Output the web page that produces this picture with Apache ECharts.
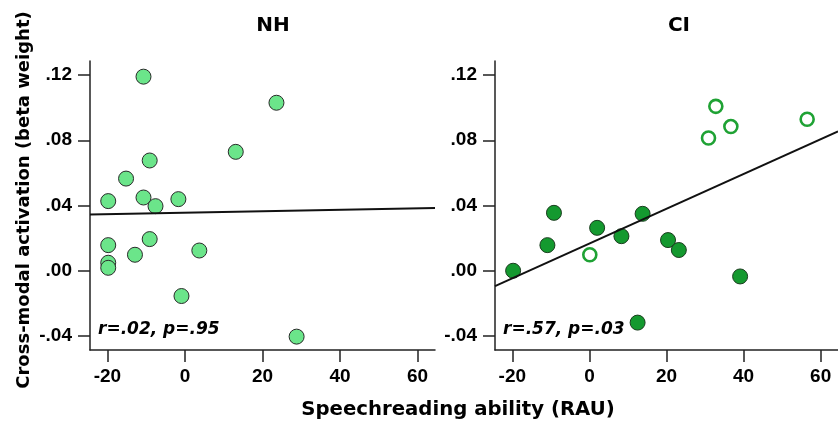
<!DOCTYPE html>
<html>
<head>
<meta charset="utf-8">
<script src="https://cdn.jsdelivr.net/npm/echarts@6/dist/echarts.min.js"></script>
<style>html,body{margin:0;padding:0;background:#fff}#c{width:838px;height:427px}</style>
</head>
<body>
<div id="c"></div>
<script>
// ---- data ----
const panelTitles = ['NH', 'CI'];
const xTicks = [-20, 0, 20, 40, 60];
const xTickLabels = ['-20', '0', '20', '40', '60'];
const yTicks = [-0.04, 0, 0.04, 0.08, 0.12];
const yTickLabels = ['-.04', '.00', '.04', '.08', '.12'];

const nhX = [-10.7, 23.6, 13.1, -9.1, -15.2, -19.8, -10.7, -7.6, -1.7, -19.8, -19.8, -19.8, -12.9, -9.1, 3.7, -0.9, 28.8];
const nhY = [0.119, 0.103, 0.0729, 0.0676, 0.0565, 0.0427, 0.0449, 0.0396, 0.0439, 0.0157, 0.0049, 0.0018, 0.0098, 0.0194, 0.0124, -0.0155, -0.0404];

const ciX = [-19.8, -10.9, -9.2, 2.0, 8.3, 13.8, 20.4, 23.2, 39.1, 12.5];
const ciY = [0.000, 0.0157, 0.0355, 0.0263, 0.0212, 0.0349, 0.0188, 0.0127, -0.0035, -0.0318];

const ciOpenX = [0.1, 30.9, 32.8, 36.7, 56.5];
const ciOpenY = [0.0098, 0.0814, 0.1008, 0.0884, 0.0929];

const nhFitX = [-24.5, 64.5];
const nhFitY = [0.0345, 0.0385];
const ciFitX = [-24.5, 64.5];
const ciFitY = [-0.0094, 0.0855];

const statTexts = ['r=.02, p=.95', 'r=.57, p=.03'];
const xTitle = 'Speechreading ability (RAU)';
const yTitle = 'Cross-modal activation (beta weight)';

// ---- chart ----
const zip = (a, b) => a.map((v, i) => [v, b[i]]);
const tickFont = {fontFamily: 'Liberation Sans, Arial, sans-serif', fontWeight: 'bold', fontSize: 19, color: '#000'};

function xAxis(gi) {
  return {
    type: 'value', gridIndex: gi, min: -24.5, max: 64.5,
    splitLine: {show: false},
    axisLine: {show: true, onZero: false, lineStyle: {color: '#222', width: 1.5}},
    axisTick: {show: true, length: 12, customValues: xTicks, lineStyle: {color: '#222', width: 1.5}},
    axisLabel: Object.assign({customValues: xTicks, margin: 17,
      formatter: v => xTickLabels[xTicks.indexOf(v)] ?? ''}, tickFont)
  };
}
function yAxis(gi) {
  return {
    type: 'value', gridIndex: gi, min: -0.0486, max: 0.1286,
    splitLine: {show: false},
    axisLine: {show: true, onZero: false, lineStyle: {color: '#222', width: 1.5}},
    axisTick: {show: true, length: 12, customValues: yTicks, lineStyle: {color: '#222', width: 1.5}},
    axisLabel: Object.assign({customValues: yTicks, margin: 18,
      formatter: v => {
        let i = yTicks.findIndex(t => Math.abs(t - v) < 1e-9);
        return i >= 0 ? yTickLabels[i] : '';
      }}, tickFont)
  };
}

const chart = echarts.init(document.getElementById('c'), null, {renderer: 'canvas'});
const titleStyle = {fontFamily: 'DejaVu Sans, Verdana, sans-serif', fontWeight: 'bold', fontSize: 20, color: '#000'};
chart.setOption({
  animation: false,
  backgroundColor: '#fff',
  title: [
    {text: panelTitles[0], left: 268, top: 11, textAlign: 'center', textStyle: titleStyle},
    {text: panelTitles[1], left: 674, top: 11, textAlign: 'center', textStyle: titleStyle}
  ],
  grid: [
    {left: 90, top: 61, width: 345, height: 289},
    {left: 495, top: 61, width: 349, height: 289}
  ],
  xAxis: [xAxis(0), xAxis(1)],
  yAxis: [yAxis(0), yAxis(1)],
  series: [
    {type: 'scatter', xAxisIndex: 0, yAxisIndex: 0, data: zip(nhX, nhY), symbolSize: 15, z: 3,
      itemStyle: {color: '#6be58a', borderColor: '#2a2a2a', borderWidth: 1, opacity: 1}},
    {type: 'line', xAxisIndex: 0, yAxisIndex: 0, data: zip(nhFitX, nhFitY), symbol: 'none', z: 4,
      lineStyle: {color: '#111', width: 2}},
    {type: 'scatter', xAxisIndex: 1, yAxisIndex: 1, data: zip(ciX, ciY), symbolSize: 15, z: 3,
      itemStyle: {color: '#14992f', borderColor: '#1b3d1f', borderWidth: 1, opacity: 1}},
    {type: 'scatter', xAxisIndex: 1, yAxisIndex: 1, data: zip(ciOpenX, ciOpenY), symbolSize: 13, z: 3,
      itemStyle: {color: '#fff', borderColor: '#1fa234', borderWidth: 2.6, opacity: 1}},
    {type: 'line', xAxisIndex: 1, yAxisIndex: 1, data: zip(ciFitX, ciFitY), symbol: 'none', z: 4,
      lineStyle: {color: '#111', width: 2}}
  ],
  graphic: [
    {type: 'text', left: 98, top: 321, z: 10,
      style: {text: statTexts[0], font: 'italic bold 17px "DejaVu Sans", Verdana, sans-serif', fill: '#000'}},
    {type: 'text', left: 503, top: 321, z: 10,
      style: {text: statTexts[1], font: 'italic bold 17px "DejaVu Sans", Verdana, sans-serif', fill: '#000'}},
    {type: 'text', x: 458, y: 410, z: 10,
      style: {text: xTitle, font: 'bold 19.7px "DejaVu Sans", Verdana, sans-serif', fill: '#000', align: 'center', verticalAlign: 'middle'}},
    {type: 'text', x: 24, y: 200, rotation: Math.PI / 2, z: 10,
      style: {text: yTitle, font: 'bold 18px "DejaVu Sans", Verdana, sans-serif', fill: '#000', align: 'center', verticalAlign: 'middle'}}
  ]
});
</script>
</body>
</html>
